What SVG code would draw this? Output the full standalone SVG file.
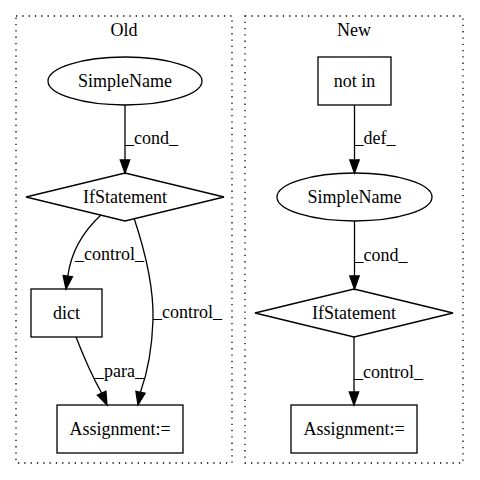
<svg xmlns="http://www.w3.org/2000/svg" width="480" height="480" viewBox="0 0 480 480" font-family="'Liberation Serif', 'Times New Roman', Times, serif" font-size="18">
<style>
text{font-family:'Liberation Serif','Times New Roman',Times,serif;font-size:18px;fill:#000}
.c{text-anchor:middle}
.n{fill:none;stroke:#000;stroke-width:1.3}
.cl{fill:none;stroke:#000;stroke-width:1.3;stroke-dasharray:1.3,5}
.e{fill:none;stroke:#000;stroke-width:1.3}
.a{fill:#000;stroke:#000;stroke-width:1.3}
</style>
<rect width="480" height="480" fill="#fff"/>
<g id="cluster_old">
<rect class="cl" x="16" y="16" width="216" height="447"/>
<text class="c" x="124" y="36">Old</text>
</g>
<g id="cluster_new">
<rect class="cl" x="245" y="16" width="218" height="447"/>
<text class="c" x="354" y="36">New</text>
</g>
<g id="old_simplename">
<ellipse class="n" cx="125" cy="81" rx="77" ry="24"/>
<text class="c" x="125" y="87">SimpleName</text>
</g>
<g id="old_ifstatement">
<polygon class="n" points="125,173 224,197 125,221 26,197"/>
<text class="c" x="125" y="203">IfStatement</text>
</g>
<g id="old_dict">
<rect class="n" x="31" y="289" width="71" height="48"/>
<text class="c" x="66.5" y="319">dict</text>
</g>
<g id="old_assignment">
<rect class="n" x="57" y="405" width="126" height="48"/>
<text class="c" x="120" y="435">Assignment:=</text>
</g>
<g id="new_notin">
<rect class="n" x="318" y="57" width="73" height="48"/>
<text class="c" x="354.5" y="87">not in</text>
</g>
<g id="new_simplename">
<ellipse class="n" cx="354.5" cy="197" rx="77.5" ry="24"/>
<text class="c" x="354.5" y="203">SimpleName</text>
</g>
<g id="new_ifstatement">
<polygon class="n" points="354,289 453,313 354,337 255,313"/>
<text class="c" x="354" y="319">IfStatement</text>
</g>
<g id="new_assignment">
<rect class="n" x="291" y="405" width="126" height="48"/>
<text class="c" x="354" y="435">Assignment:=</text>
</g>
<g id="connectors">
<path class="e" d="M125,105 L125,160"/>
<polygon class="a" points="120.3,160 125,173 129.7,160"/>
<text x="125" y="144">_cond_</text>
<path class="e" d="M101,215 C89,226 72,246 67.8,276"/>
<polygon class="a" points="63.15,275.5 66,289 72.45,276.7"/>
<text x="75" y="260">_control_</text>
<path class="e" d="M134,218 C143,245 154,285 153,320 C152,350 147,374 140.5,392"/>
<polygon class="a" points="135.9,391.4 138,405 145.1,393.2"/>
<text x="153" y="318">_control_</text>
<path class="e" d="M76,337 C83,355 92,376 101.6,393"/>
<polygon class="a" points="97.3,395.1 107,405 105.9,391.3"/>
<text x="95" y="377">_para_</text>
<path class="e" d="M354.5,105 L354.5,160"/>
<polygon class="a" points="349.8,160 354.5,173 359.2,160"/>
<text x="354.5" y="144">_def_</text>
<path class="e" d="M354.5,221 L354.5,276"/>
<polygon class="a" points="349.8,276 354.5,289 359.2,276"/>
<text x="354.5" y="261">_cond_</text>
<path class="e" d="M354,337 L354,392"/>
<polygon class="a" points="349.3,392 354,405 358.7,392"/>
<text x="354" y="378">_control_</text>
</g>
</svg>
